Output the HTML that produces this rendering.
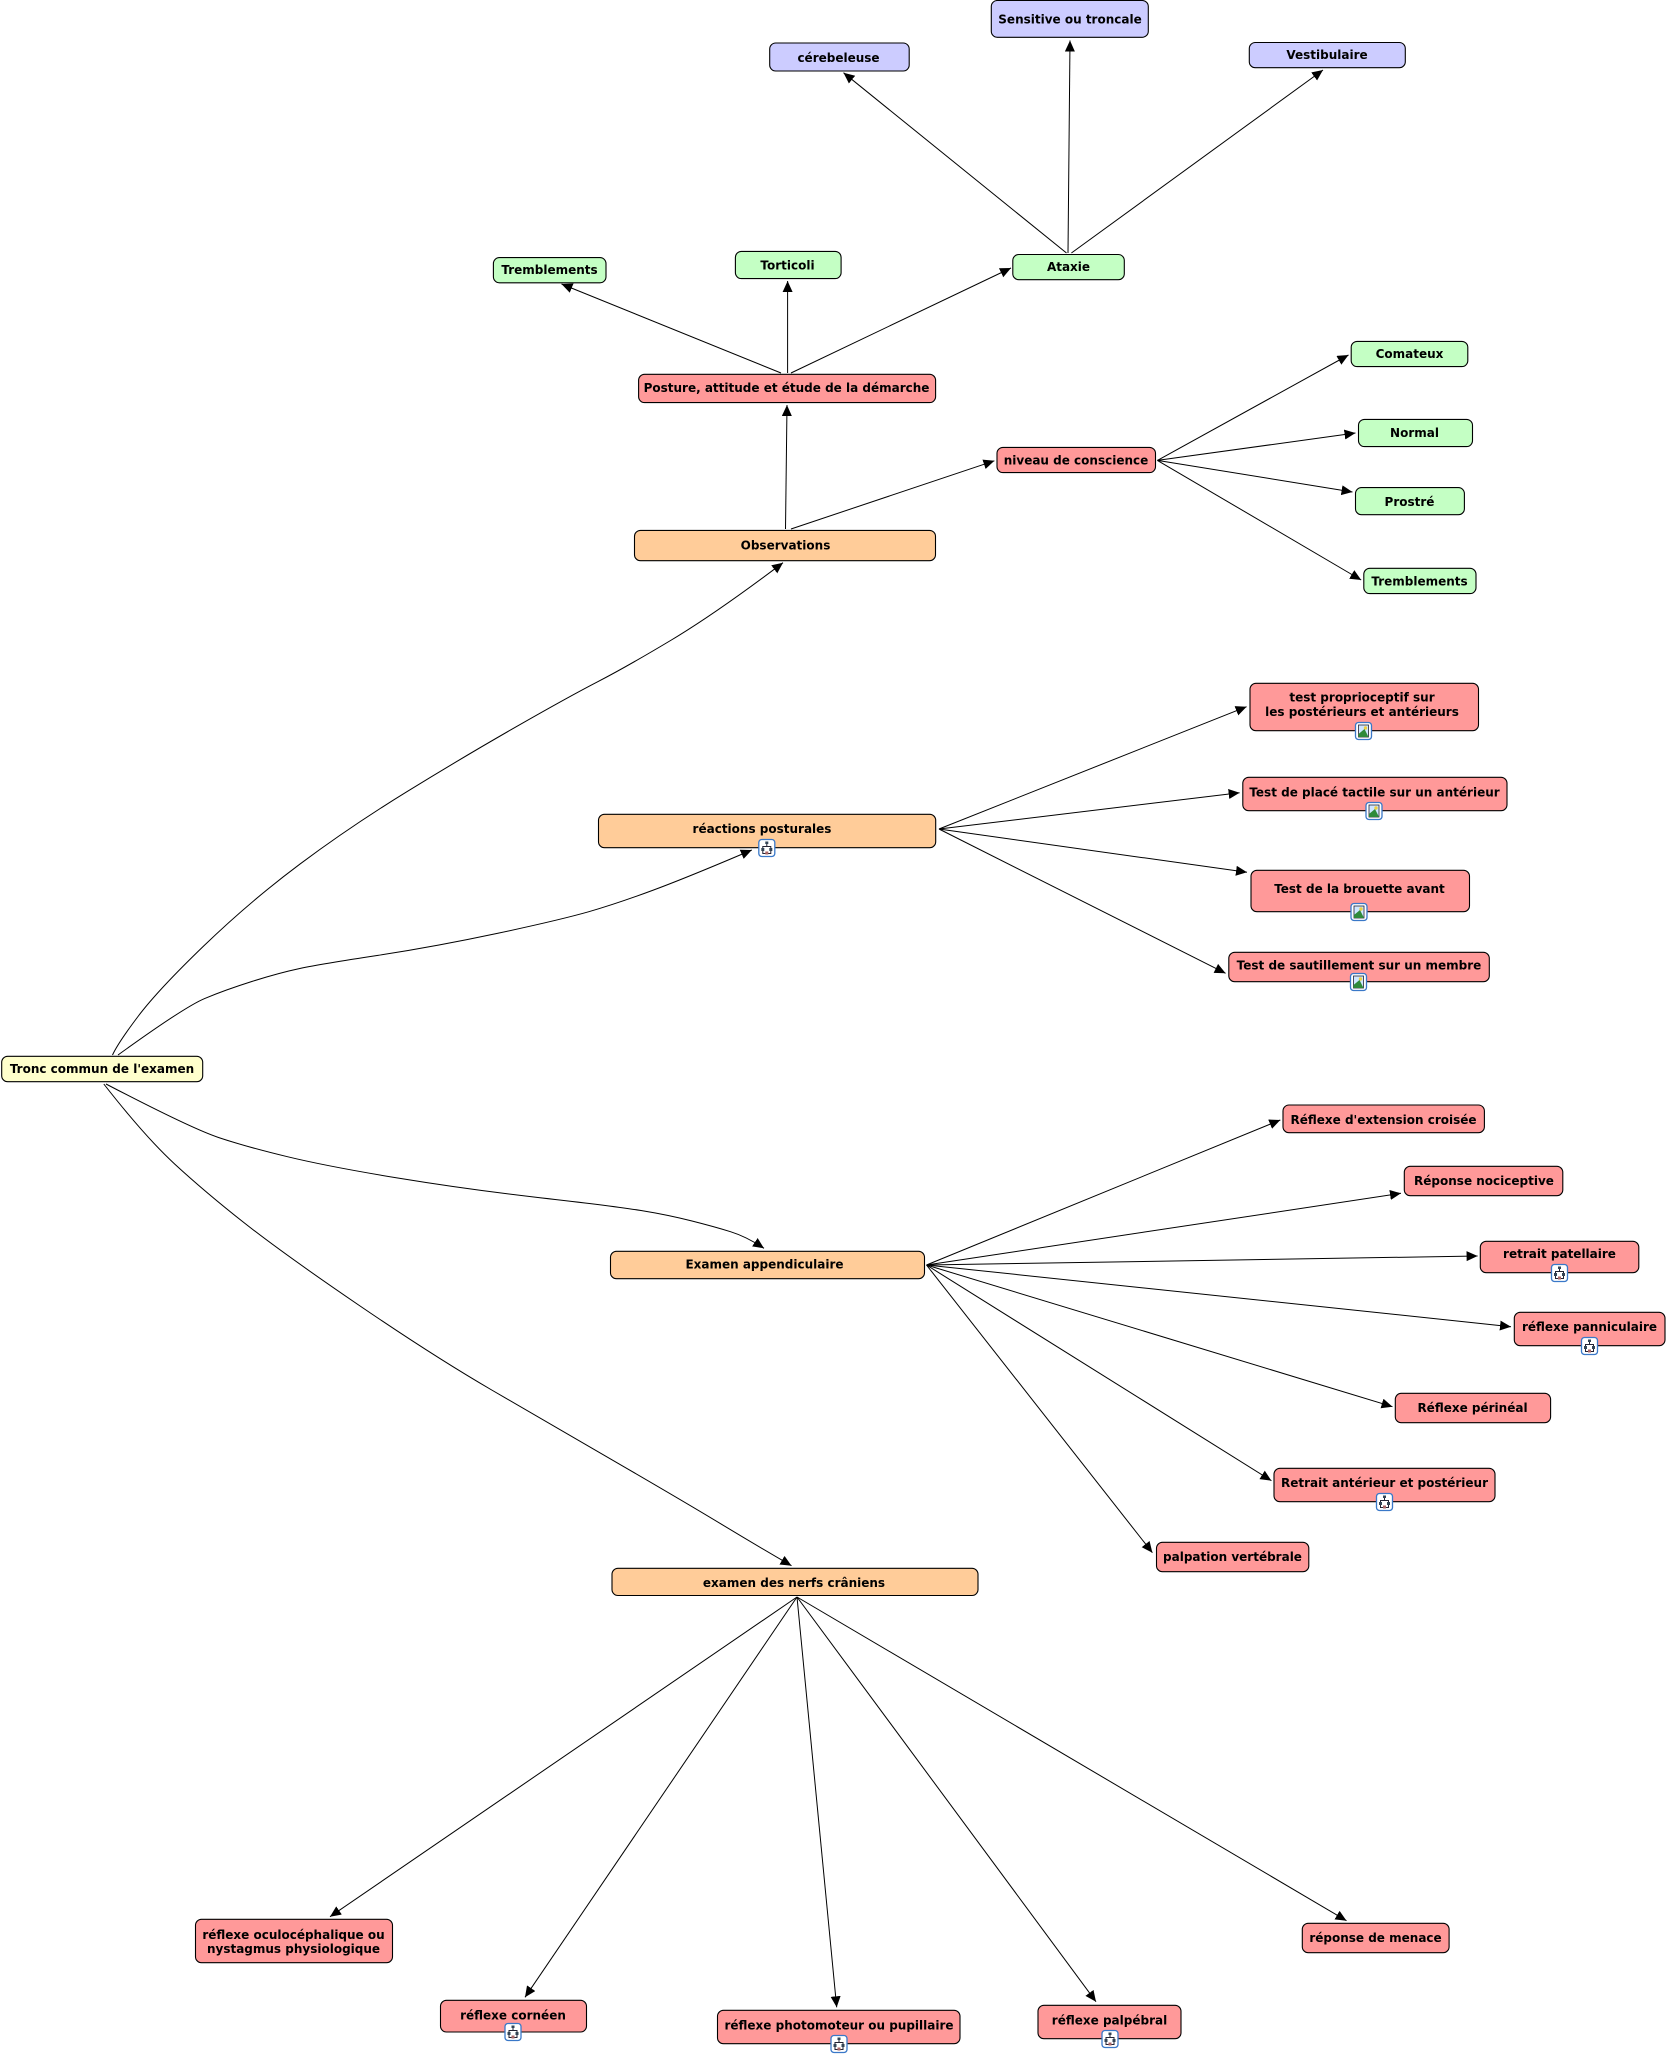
<!DOCTYPE html>
<html><head><meta charset="utf-8"><style>
html,body{margin:0;padding:0;background:#fff}
svg{display:block}
rect.n{stroke:#000;stroke-width:1.1}
text{font-family:"DejaVu Sans","Liberation Sans",sans-serif;font-weight:bold;font-size:12px;text-anchor:middle;fill:#000}
path.l,line{stroke:#000;stroke-width:1;fill:none;marker-end:url(#a)}
.r{fill:#FF9999}.g{fill:#C4FFC4}.b{fill:#CCCCFF}.o{fill:#FFCC99}.y{fill:#FFFFCC}
</style></head><body>
<svg width="1667" height="2056" viewBox="0 0 1667 2056" xmlns="http://www.w3.org/2000/svg">
<defs>
<marker id="a" markerUnits="userSpaceOnUse" markerWidth="12" markerHeight="11" refX="11" refY="5" orient="auto"><path d="M0 0L11 5L0 10z" fill="#000"/></marker>
<g id="ic"><rect x="-8" y="-8.5" width="16" height="17" rx="3" fill="#fff" stroke="#3a78c8" stroke-width="1.3"/><rect x="-1.5" y="-6.5" width="3" height="2.5" fill="#345"/><path d="M0-4V-1.5M-4 0V-1.5H4V0" stroke="#223" fill="none"/><rect x="-5.5" y="0" width="3" height="3" fill="#345"/><rect x="2.5" y="0" width="3" height="3" fill="#345"/><path d="M-4 3V5.5H4V3" stroke="#223" fill="none"/><rect x="-1.5" y="3.5" width="3" height="3" fill="#a66"/></g>
<g id="im"><rect x="-8" y="-8.5" width="16" height="17" rx="3" fill="#fff" stroke="#3a78c8" stroke-width="1.3"/><rect x="-5" y="-6" width="10" height="12" fill="#cfe6ff" stroke="#223" stroke-width=".8"/><circle cx="2" cy="-3" r="1.7" fill="#f0d040"/><path d="M-5 6L-5 3L1-2L5 6z" fill="#2f8a3a"/></g>
</defs>

<g>
<line x1="1066.5" y1="253" x2="843.5" y2="72.7"/>
<line x1="1068" y1="253" x2="1070" y2="40.5"/>
<line x1="1071.4" y1="253" x2="1323" y2="70"/>
<line x1="781" y1="373" x2="561.5" y2="284"/>
<line x1="787.6" y1="373" x2="787.6" y2="281"/>
<line x1="791" y1="373" x2="1011" y2="268"/>
<line x1="785.5" y1="529" x2="787" y2="405"/>
<line x1="791" y1="529" x2="994.4" y2="460.8"/>
<line x1="1157.4" y1="460.4" x2="1348.5" y2="355"/>
<line x1="1157.4" y1="460.4" x2="1355.5" y2="433"/>
<line x1="1157.4" y1="460.4" x2="1352.5" y2="492"/>
<line x1="1157.4" y1="460.4" x2="1361.2" y2="580"/>
<path class="l" d="M112.5 1055Q118 1043 138 1016.5Q158 990 203.8 945.9Q249.6 901.7 299.8 864.2Q350 826.7 406.9 791.7Q463.8 756.7 516.3 726.7Q568.8 696.7 597.8 681.7Q626.8 666.7 671.4 640Q716 613.3 783 562.7"/>
<path class="l" d="M118 1055Q184.8 1006.7 204.9 998.4Q225 990 251.8 981.5Q278.6 973 299.8 968.5Q321 964 377.9 955.4Q434.8 946.7 497.3 933.4Q559.8 920 588.9 911.7Q617.9 903.3 653.6 890Q689.3 876.7 751.8 850"/>
<path class="l" d="M106 1084Q191 1128.3 218.5 1137.5Q246 1146.7 287.4 1156.7Q328.8 1166.7 397.7 1178Q466.5 1189.3 540 1197.7Q613.4 1206 641 1210.5Q668.5 1215 691.5 1220.9Q714.4 1226.7 730.5 1231.7Q746.6 1236.7 764 1248.3"/>
<path class="l" d="M103.8 1084Q145 1136.7 174.9 1164.2Q204.8 1191.7 243.8 1222.5Q282.8 1253.3 358.6 1305Q434.4 1356.7 491.7 1390Q549 1423.3 618 1463.3Q686.9 1503.3 721.4 1524.2Q755.8 1545 791.5 1565.7"/>
<line x1="939" y1="829" x2="1246.6" y2="706.7"/>
<line x1="939" y1="829" x2="1239.6" y2="792.7"/>
<line x1="939" y1="829" x2="1247" y2="872.3"/>
<line x1="939" y1="829" x2="1225.6" y2="973.3"/>
<line x1="926.5" y1="1265" x2="1280.3" y2="1120"/>
<line x1="926.5" y1="1265" x2="1401" y2="1193.3"/>
<line x1="926.5" y1="1265" x2="1477.6" y2="1256"/>
<line x1="926.5" y1="1265" x2="1511" y2="1326.7"/>
<line x1="926.5" y1="1265" x2="1392.5" y2="1406.7"/>
<line x1="926.5" y1="1265" x2="1271.4" y2="1480.7"/>
<line x1="926.5" y1="1265" x2="1152.4" y2="1552.7"/>
<line x1="797" y1="1597" x2="330" y2="1916.7"/>
<line x1="797" y1="1597" x2="525" y2="1997.3"/>
<line x1="797" y1="1597" x2="836.7" y2="2007.3"/>
<line x1="797" y1="1597" x2="1096" y2="2001.7"/>
<line x1="797" y1="1597" x2="1346.5" y2="1920.7"/>
</g>

<rect class="n b" x="991.3" y="0.5" width="157" height="36.8" rx="6"/><text x="1070" y="23.5">Sensitive ou troncale</text>
<rect class="n b" x="769.7" y="43" width="139.5" height="28" rx="6"/><text x="838.5" y="62">cérebeleuse</text>
<rect class="n b" x="1249.3" y="42.5" width="156" height="25.2" rx="6"/><text x="1327" y="59">Vestibulaire</text>
<rect class="n g" x="1012.8" y="254.5" width="111.5" height="25.2" rx="6"/><text x="1068.5" y="271">Ataxie</text>
<rect class="n g" x="735.4" y="251.4" width="105.7" height="27.2" rx="6"/><text x="787.5" y="269.5">Torticoli</text>
<rect class="n g" x="493.4" y="257.6" width="112.6" height="25.2" rx="6"/><text x="549.5" y="274">Tremblements</text>
<rect class="n r" x="638.6" y="374.3" width="297" height="28.3" rx="6"/><text x="786.5" y="392">Posture, attitude et étude de la démarche</text>
<rect class="n r" x="997" y="447.4" width="158.5" height="25.2" rx="6"/><text x="1076" y="464.5">niveau de conscience</text>
<rect class="n g" x="1351.2" y="341.4" width="116.6" height="25.2" rx="6"/><text x="1409.5" y="358">Comateux</text>
<rect class="n g" x="1358.5" y="419.4" width="114" height="27.2" rx="6"/><text x="1414.5" y="437">Normal</text>
<rect class="n g" x="1355.5" y="487.6" width="108.9" height="27.1" rx="6"/><text x="1409.5" y="506">Prostré</text>
<rect class="n g" x="1363.8" y="568.3" width="112.2" height="25.3" rx="6"/><text x="1419.5" y="585.5">Tremblements</text>
<rect class="n o" x="634.5" y="530.4" width="301" height="30.3" rx="6"/><text x="785.5" y="549.5">Observations</text>
<rect class="n o" x="598.5" y="814.3" width="337.2" height="33.4" rx="6"/><text x="762" y="833">réactions posturales</text>
<rect class="n r" x="1250" y="683.3" width="228.5" height="47.4" rx="6"/><text x="1362" y="701.5">test proprioceptif sur</text><text x="1362" y="716">les postérieurs et antérieurs</text>
<rect class="n r" x="1242.8" y="777.3" width="264.2" height="33.4" rx="6"/><text x="1374.5" y="796.5">Test de placé tactile sur un antérieur</text>
<rect class="n r" x="1251" y="870.3" width="218.5" height="41.4" rx="6"/><text x="1359.5" y="893">Test de la brouette avant</text>
<rect class="n r" x="1228.8" y="952.3" width="260.5" height="29.4" rx="6"/><text x="1359" y="969.5">Test de sautillement sur un membre</text>
<rect class="n y" x="1.7" y="1056.3" width="201" height="25.4" rx="6"/><text x="102" y="1073">Tronc commun de l'examen</text>
<rect class="n o" x="610.5" y="1251.3" width="314" height="27.4" rx="6"/><text x="764.5" y="1268.5">Examen appendiculaire</text>
<rect class="n r" x="1283" y="1105" width="201.4" height="27.7" rx="6"/><text x="1383.5" y="1124">Réflexe d'extension croisée</text>
<rect class="n r" x="1404.3" y="1166.3" width="158.5" height="29.4" rx="6"/><text x="1484" y="1185">Réponse nociceptive</text>
<rect class="n r" x="1480.3" y="1241.3" width="158.5" height="31.4" rx="6"/><text x="1559.5" y="1258">retrait patellaire</text>
<rect class="n r" x="1514.3" y="1312.3" width="150.7" height="33.4" rx="6"/><text x="1589.5" y="1331">réflexe panniculaire</text>
<rect class="n r" x="1395.3" y="1393.3" width="155.3" height="29.4" rx="6"/><text x="1472.5" y="1412">Réflexe périnéal</text>
<rect class="n r" x="1274" y="1468.3" width="221" height="33.4" rx="6"/><text x="1384.5" y="1487">Retrait antérieur et postérieur</text>
<rect class="n r" x="1156.5" y="1542.3" width="152.3" height="29.4" rx="6"/><text x="1232.5" y="1561">palpation vertébrale</text>
<rect class="n o" x="612" y="1568.3" width="366" height="27.2" rx="6"/><text x="794" y="1587">examen des nerfs crâniens</text>
<rect class="n r" x="195.5" y="1919.3" width="197" height="43.4" rx="6"/><text x="293.5" y="1939">réflexe oculocéphalique ou</text><text x="293.5" y="1953">nystagmus physiologique</text>
<rect class="n r" x="440.5" y="2000.3" width="146" height="31.7" rx="6"/><text x="513" y="2019.5">réflexe cornéen</text>
<rect class="n r" x="717.5" y="2010.3" width="242.5" height="33.4" rx="6"/><text x="839" y="2029.5">réflexe photomoteur ou pupillaire</text>
<rect class="n r" x="1038" y="2005.3" width="143" height="33.4" rx="6"/><text x="1109.5" y="2024.5">réflexe palpébral</text>
<rect class="n r" x="1302.3" y="1923.3" width="146.8" height="29.4" rx="6"/><text x="1375.5" y="1942">réponse de menace</text>

<use href="#im" x="1363.5" y="731"/>
<use href="#im" x="1374" y="811"/>
<use href="#im" x="1359" y="912"/>
<use href="#im" x="1358.5" y="982"/>
<use href="#ic" x="766.8" y="848"/>
<use href="#ic" x="1559.5" y="1273"/>
<use href="#ic" x="1589.5" y="1346"/>
<use href="#ic" x="1384.5" y="1502"/>
<use href="#ic" x="513" y="2032"/>
<use href="#ic" x="839" y="2044"/>
<use href="#ic" x="1110" y="2039"/>
</svg>
</body></html>
